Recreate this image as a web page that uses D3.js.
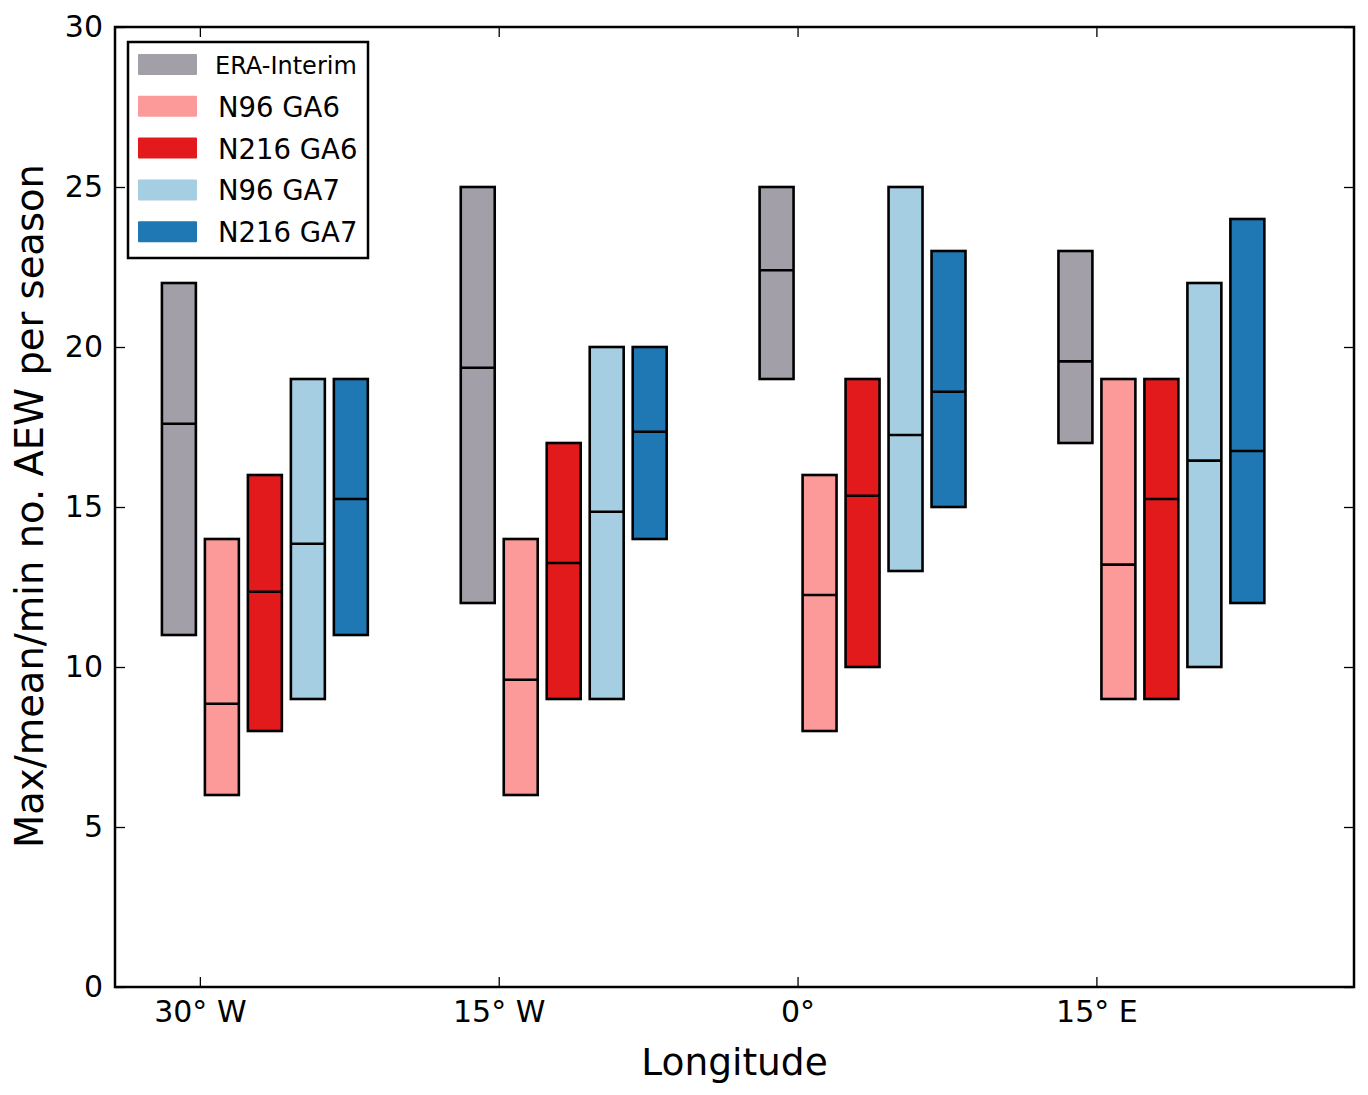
<!DOCTYPE html>
<html>
<head>
<meta charset="utf-8">
<script src="https://cdn.jsdelivr.net/npm/d3@7"></script>
<style>
  body { margin: 0; background: #fff; }
  text { font-family: "DejaVu Sans", sans-serif; fill: #000; }
</style>
</head>
<body>
<div id="chart"></div>
<script>
// --------- data ---------
const longitudes = [-30, -15, 0, 15];
const lonLabels = ['30° W', '15° W', '0°', '15° E'];
const series = ['ERA-Interim', 'N96 GA6', 'N216 GA6', 'N96 GA7', 'N216 GA7'];
const colors = ['#a29fa9', '#fb9a99', '#e31a1c', '#a6cee3', '#1f78b4'];

// rows = longitude, columns = series
const maxVals = [
    [22, 14, 16, 19, 19],
    [25, 14, 17, 20, 20],
    [25, 16, 19, 25, 23],
    [23, 19, 19, 22, 24]
];
const minVals = [
    [11, 6, 8, 9, 11],
    [12, 6, 9, 9, 14],
    [19, 8, 10, 13, 15],
    [17, 9, 9, 10, 12]
];
const meanVals = [
    [17.6, 8.85, 12.35, 13.85, 15.25],
    [19.35, 9.6, 13.25, 14.85, 17.35],
    [22.4, 12.25, 15.35, 17.25, 18.6],
    [19.55, 13.2, 15.25, 16.45, 16.75]
];
const yTicks = [0, 5, 10, 15, 20, 25, 30];

// --------- layout ---------
const width = 1368, height = 1095;
const margin = { top: 27, right: 14, bottom: 108, left: 115 };

const svg = d3.select('#chart').append('svg')
    .attr('width', width)
    .attr('height', height);

const x = d3.scaleLinear()
    .domain([-34.26, 27.93])
    .range([margin.left, width - margin.right]);

const y = d3.scaleLinear()
    .domain([0, 30])
    .range([height - margin.bottom, margin.top]);

// bars sit to the right of each longitude tick
const groupW = x(15) - x(0);
const inner = d3.scaleBand()
    .domain(series)
    .range([-0.127 * groupW, 0.562 * groupW])
    .paddingInner(0.21)
    .paddingOuter(0);

const boxes = [];
longitudes.forEach((lon, i) => {
    series.forEach((s, j) => {
        boxes.push({ lon, s, j, max: maxVals[i][j], min: minVals[i][j], mean: meanVals[i][j] });
    });
});

const g = svg.append('g');

g.selectAll('rect.box')
    .data(boxes)
    .enter().append('rect')
    .attr('class', 'box')
    .attr('x', d => x(d.lon) + inner(d.s))
    .attr('y', d => y(d.max))
    .attr('width', inner.bandwidth())
    .attr('height', d => y(d.min) - y(d.max))
    .attr('fill', d => colors[d.j])
    .attr('stroke', '#000')
    .attr('stroke-width', 2.6);

g.selectAll('line.mean')
    .data(boxes)
    .enter().append('line')
    .attr('class', 'mean')
    .attr('x1', d => x(d.lon) + inner(d.s))
    .attr('x2', d => x(d.lon) + inner(d.s) + inner.bandwidth())
    .attr('y1', d => y(d.mean))
    .attr('y2', d => y(d.mean))
    .attr('stroke', '#000')
    .attr('stroke-width', 2.6);

// --------- axes (ticks inward on all sides) ---------
const tickLen = 10;
const xAxis = svg.append('g')
    .attr('transform', `translate(0,${height - margin.bottom})`)
    .call(d3.axisBottom(x).tickValues(longitudes).tickFormat((d, i) => lonLabels[i])
        .tickSizeInner(-tickLen).tickSizeOuter(0).tickPadding(14));
xAxis.select('.domain').remove();
xAxis.selectAll('line').attr('stroke-width', 1.3);
xAxis.selectAll('text').style('font-size', '30px').attr('font-family', 'DejaVu Sans');

const xTop = svg.append('g')
    .attr('transform', `translate(0,${margin.top})`)
    .call(d3.axisTop(x).tickValues(longitudes).tickFormat('').tickSizeInner(-tickLen).tickSizeOuter(0));
xTop.select('.domain').remove();
xTop.selectAll('line').attr('stroke-width', 1.3);

const yAxis = svg.append('g')
    .attr('transform', `translate(${margin.left},0)`)
    .call(d3.axisLeft(y).tickValues(yTicks).tickSizeInner(-tickLen).tickSizeOuter(0).tickPadding(12));
yAxis.select('.domain').remove();
yAxis.selectAll('line').attr('stroke-width', 1.3);
yAxis.selectAll('text').style('font-size', '30px').attr('font-family', 'DejaVu Sans');

const yRight = svg.append('g')
    .attr('transform', `translate(${width - margin.right},0)`)
    .call(d3.axisRight(y).tickValues(yTicks).tickFormat('').tickSizeInner(-tickLen).tickSizeOuter(0));
yRight.select('.domain').remove();
yRight.selectAll('line').attr('stroke-width', 1.3);

// frame
svg.append('rect')
    .attr('x', margin.left)
    .attr('y', margin.top)
    .attr('width', width - margin.left - margin.right)
    .attr('height', height - margin.top - margin.bottom)
    .attr('fill', 'none')
    .attr('stroke', '#000')
    .attr('stroke-width', 2.5);

// axis labels
svg.append('text')
    .attr('x', (margin.left + width - margin.right) / 2)
    .attr('y', 1075)
    .attr('text-anchor', 'middle')
    .style('font-size', '37.5px')
    .text('Longitude');

svg.append('text')
    .attr('transform', `translate(43,${(margin.top + height - margin.bottom) / 2 - 1}) rotate(-90)`)
    .attr('text-anchor', 'middle')
    .style('font-size', '38.5px')
    .text('Max/mean/min no. AEW per season');

// --------- legend ---------
const legend = svg.append('g').attr('transform', 'translate(128,42)');
legend.append('rect')
    .attr('width', 240)
    .attr('height', 216)
    .attr('fill', '#fff')
    .attr('stroke', '#000')
    .attr('stroke-width', 2.5);

const rows = legend.selectAll('g.item')
    .data(series)
    .enter().append('g')
    .attr('class', 'item')
    .attr('transform', (d, i) => `translate(0,${23 + i * 41.8})`);

rows.append('rect')
    .attr('x', 10)
    .attr('y', -11)
    .attr('width', 59)
    .attr('height', 21)
    .attr('rx', 1)
    .attr('fill', (d, i) => colors[i]);

rows.append('text')
    .attr('x', (d, i) => i === 0 ? 87 : 90)
    .attr('y', (d, i) => i === 0 ? 9 : 10)
    .style('font-size', (d, i) => i === 0 ? '24px' : '27.5px')
    .text(d => d);
</script>
</body>
</html>
